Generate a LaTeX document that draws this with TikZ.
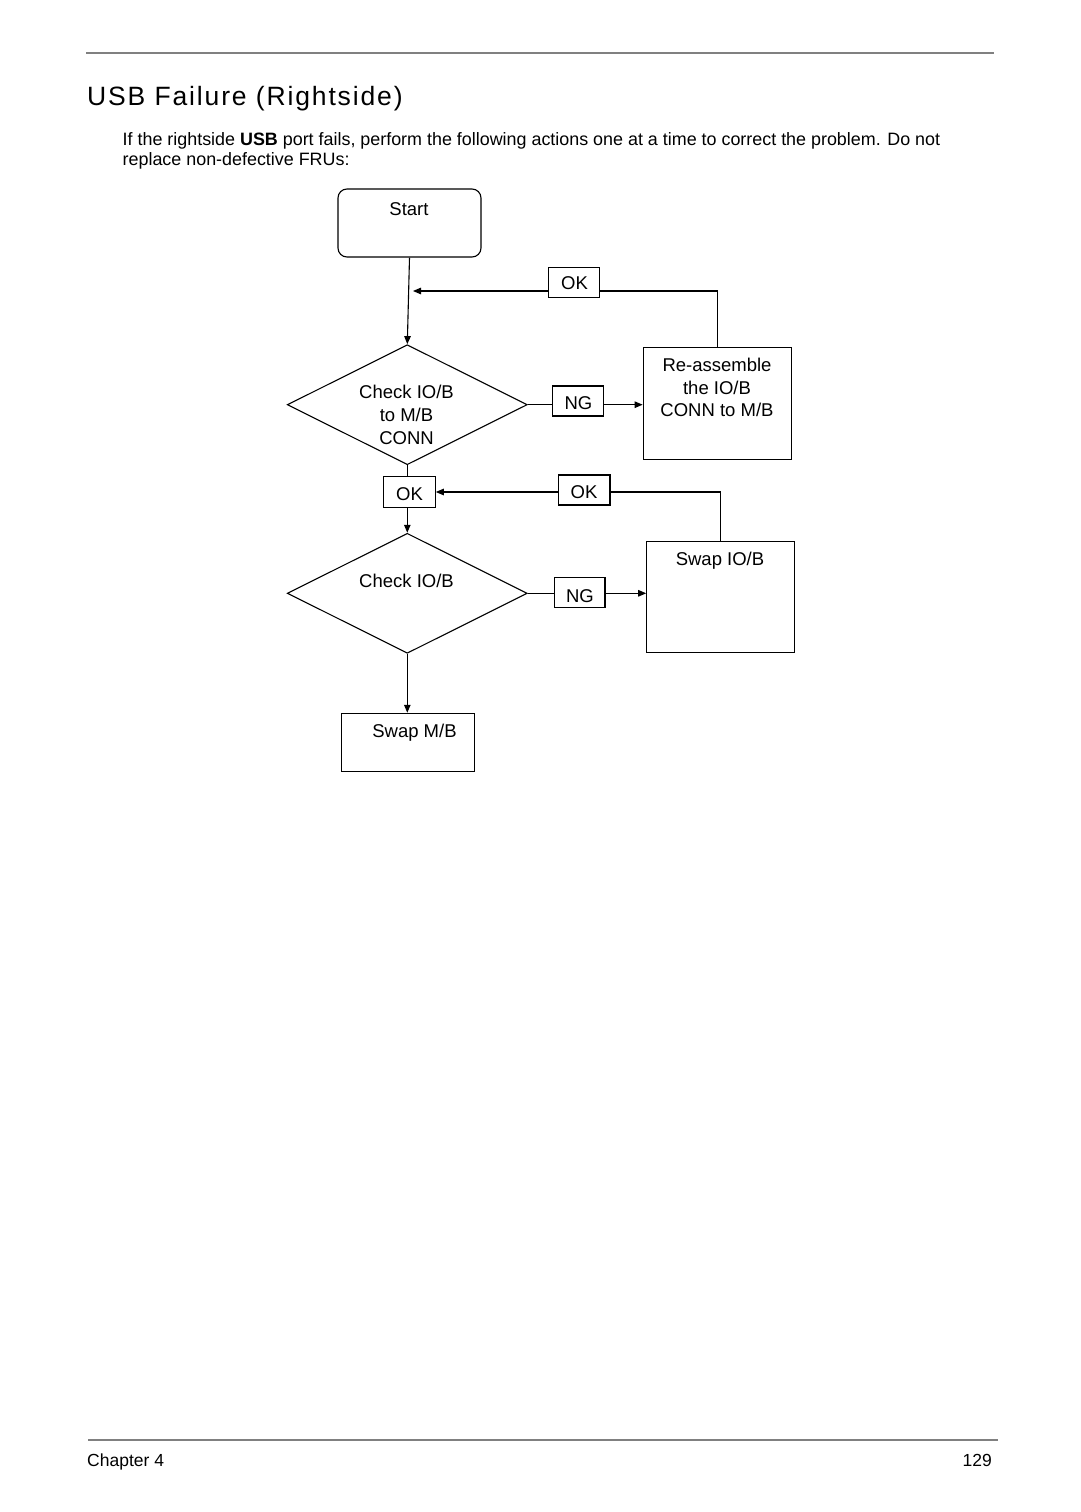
\documentclass[tikz,border=0pt]{standalone}
\usepackage{fontspec}
\setmainfont{Liberation Sans}
\usetikzlibrary{shapes.geometric,arrows.meta,backgrounds}
\tikzset{
  flow/.style={line width=1.1pt, draw=black},
  arr/.style={flow, -{Triangle[length=8pt,width=6.5pt]}},
  bx/.style={draw, line width=1.1pt, fill=white, inner sep=0pt},
  dm/.style={draw, diamond, line width=1.1pt, fill=white, inner sep=0pt, minimum width=240pt, minimum height=120pt},
  lbl/.style={anchor=base, inner sep=0pt, font=\fontsize{18.5}{22}\selectfont},
  bodytxt/.style={anchor=base west, inner sep=0pt, font=\fontsize{17.9}{21}\selectfont},
  pagerule/.style={draw=black!50, line width=2.2pt},
}
\begin{document}
\begin{tikzpicture}[x=1pt,y=-1pt]
\useasboundingbox (0,0) rectangle (1080,1512);

% page header / footer
\coordinate (tl) at (86,53);
\coordinate (tr) at (994,53);
\draw[pagerule] (tl) -- (tr);
\coordinate (bl) at (88,1440);
\coordinate (br) at (998,1440);
\draw[pagerule] (bl) -- (br);

\node[anchor=base west, inner sep=0pt, font=\fontsize{26.5}{30}\selectfont\addfontfeature{LetterSpace=7}] (title) at (87,105) {USB Failure (Rightside)};
\node[bodytxt] (para1) at (122.5,145) {If the rightside \textbf{USB} port fails, perform the following actions one at a time to correct the problem. Do not};
\node[bodytxt] (para2) at (122.5,165) {replace non-defective FRUs:};
\node[anchor=base west, inner sep=0pt, font=\fontsize{17.5}{20}\selectfont] (chap) at (87,1466) {Chapter 4};
\node[anchor=base east, inner sep=0pt, font=\fontsize{17.5}{20}\selectfont] (pnum) at (992,1466) {129};

% shapes
\node[bx, rounded corners=9pt, minimum width=143pt, minimum height=68pt] (start) at (409.5,223) {};
\node[lbl] (tstart) at (409,215.5) {Start};

\node[bx, minimum width=51pt, minimum height=30pt] (ok1) at (574.3,282.3) {};
\node[lbl] (tok1) at (574.5,289.5) {OK};

\node[dm] (d1) at (407.3,404.7) {};
\node[lbl] (td1a) at (406.5,398.5) {Check IO/B};
\node[lbl] (td1b) at (406.5,421.5) {to M/B};
\node[lbl] (td1c) at (406.5,444.5) {CONN};

\node[bx, minimum width=51pt, minimum height=30pt] (ng1) at (578.3,401) {};
\node[lbl] (tng1) at (578.5,409) {NG};

\node[bx, minimum width=148pt, minimum height=111.5pt] (reasm) at (717.2,403.5) {};
\node[lbl] (tr1) at (717,371.5) {Re-assemble};
\node[lbl] (tr2) at (717,394) {the IO/B};
\node[lbl] (tr3) at (717,416.5) {CONN to M/B};

\node[bx, minimum width=51.5pt, minimum height=30.5pt] (ok2) at (409.5,492) {};
\node[lbl] (tok2) at (409.5,500.5) {OK};

\node[bx, minimum width=51.5pt, minimum height=30pt] (ok3) at (584.2,490) {};
\node[lbl] (tok3) at (584,498.5) {OK};

\node[dm, minimum height=120pt] (d2) at (407.3,593.3) {};
\node[lbl] (td2) at (406.5,587.5) {Check IO/B};

\node[bx, minimum width=50.5pt, minimum height=29.5pt] (ng2) at (579.7,592.5) {};
\node[lbl] (tng2) at (580,602) {NG};

\node[bx, minimum width=147.5pt, minimum height=111.3pt] (swapio) at (720.5,596.7) {};
\node[lbl] (tsio) at (720,565.5) {Swap IO/B};

\node[bx, minimum width=132.5pt, minimum height=58.4pt] (swapmb) at (408,742.5) {};
\node[lbl] (tsmb) at (414.5,737) {Swap M/B};

\coordinate (m1) at (413,291);

% connectors
\begin{scope}[on background layer]
\draw[arr] (start.south) -- (d1.north);
\draw[arr] (reasm.north) |- (m1);
\draw[arr] (d1.east) -- (d1.east -| reasm.west);
\draw[flow] (d1.south) -- (d1.south |- ok2.north);
\draw[arr] (d2.north |- ok2.south) -- (d2.north);
\draw[arr] (swapio.north) |- (ok2.east);
\draw[arr] (d2.east) -- (d2.east -| swapio.west);
\draw[arr] (d2.south) -- (d2.south |- swapmb.north);
\end{scope}
\end{tikzpicture}
\end{document}
